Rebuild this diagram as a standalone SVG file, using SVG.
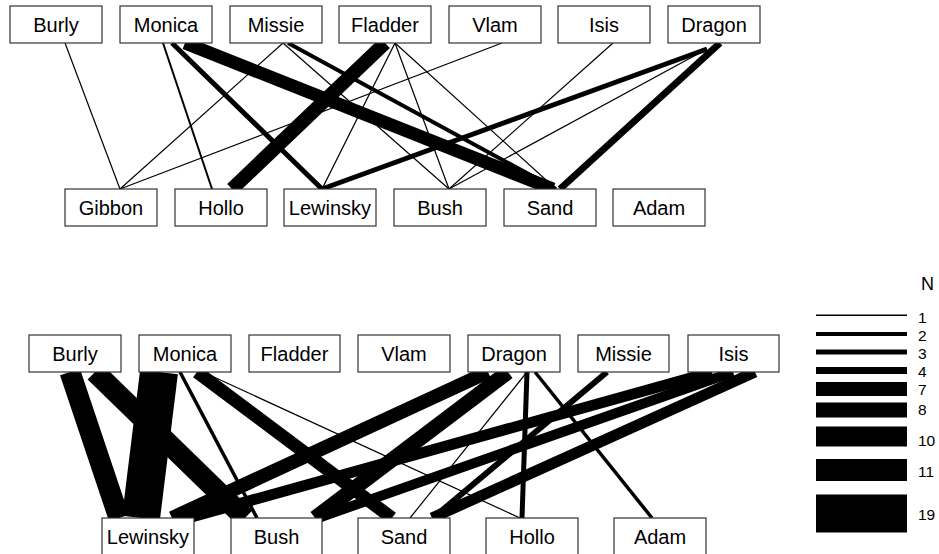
<svg xmlns="http://www.w3.org/2000/svg" width="939" height="554" viewBox="0 0 939 554">
<style>
.nd rect{fill:#fff;stroke:#333;stroke-width:1.2}
.nd text{font-family:"Liberation Sans",Arial,sans-serif;font-size:20px;fill:#000;text-anchor:middle}
.e line{stroke:#000;stroke-linecap:butt}
.lg text{font-family:"Liberation Sans",Arial,sans-serif;font-size:15.5px;fill:#000}
.lg .n{font-size:18px}
</style>
<rect width="939" height="554" fill="#fff"/>
<g id="edges-top" class="e">
<line x1="65" y1="43" x2="120" y2="189" stroke-width="1.2"/>
<line x1="163" y1="43" x2="212" y2="189" stroke-width="2"/>
<line x1="172" y1="43" x2="322" y2="189" stroke-width="5"/>
<line x1="185" y1="43" x2="553" y2="189" stroke-width="13"/>
<line x1="283" y1="43" x2="120" y2="189" stroke-width="1.2"/>
<line x1="283" y1="43" x2="449" y2="189" stroke-width="1.2"/>
<line x1="288" y1="43" x2="556" y2="189" stroke-width="4"/>
<line x1="385" y1="43" x2="232" y2="189" stroke-width="14"/>
<line x1="395" y1="43" x2="322" y2="189" stroke-width="1.2"/>
<line x1="395" y1="43" x2="449" y2="189" stroke-width="1.2"/>
<line x1="395" y1="43" x2="556" y2="189" stroke-width="1.2"/>
<line x1="502" y1="43" x2="120" y2="189" stroke-width="1.2"/>
<line x1="613" y1="43" x2="449" y2="189" stroke-width="1.2"/>
<line x1="707" y1="49" x2="322" y2="189" stroke-width="5"/>
<line x1="707" y1="49" x2="449" y2="189" stroke-width="1.2"/>
<line x1="720" y1="43" x2="560" y2="189" stroke-width="7"/>
</g>
<g id="edges-bottom" class="e">
<line x1="70" y1="372" x2="119" y2="518" stroke-width="21"/>
<line x1="95" y1="372" x2="245" y2="518" stroke-width="21"/>
<line x1="159" y1="372" x2="141" y2="518" stroke-width="38"/>
<line x1="180" y1="372" x2="257" y2="518" stroke-width="3.5"/>
<line x1="197" y1="372" x2="392" y2="518" stroke-width="13"/>
<line x1="203" y1="372" x2="520" y2="518" stroke-width="1.2"/>
<line x1="488" y1="372" x2="172" y2="518" stroke-width="14"/>
<line x1="508" y1="372" x2="315" y2="518" stroke-width="15"/>
<line x1="527" y1="372" x2="410" y2="518" stroke-width="1.2"/>
<line x1="527" y1="372" x2="522" y2="518" stroke-width="5"/>
<line x1="535" y1="372" x2="652" y2="518" stroke-width="3.5"/>
<line x1="607" y1="372" x2="433" y2="518" stroke-width="6"/>
<line x1="712" y1="372" x2="188" y2="518" stroke-width="11"/>
<line x1="733" y1="372" x2="318" y2="518" stroke-width="10"/>
<line x1="755" y1="372" x2="432" y2="518" stroke-width="11"/>
</g>
<g id="n-t-burly" class="nd"><rect x="10" y="6" width="92" height="37"/><text x="56" y="31.5">Burly</text></g>
<g id="n-t-monica" class="nd"><rect x="120" y="6" width="92" height="37"/><text x="166" y="31.5">Monica</text></g>
<g id="n-t-missie" class="nd"><rect x="230" y="6" width="92" height="37"/><text x="276" y="31.5">Missie</text></g>
<g id="n-t-fladder" class="nd"><rect x="339" y="6" width="92" height="37"/><text x="385" y="31.5">Fladder</text></g>
<g id="n-t-vlam" class="nd"><rect x="449" y="6" width="92" height="37"/><text x="495" y="31.5">Vlam</text></g>
<g id="n-t-isis" class="nd"><rect x="558" y="6" width="92" height="37"/><text x="604" y="31.5">Isis</text></g>
<g id="n-t-dragon" class="nd"><rect x="668" y="6" width="92" height="37"/><text x="714" y="31.5">Dragon</text></g>
<g id="n-t-gibbon" class="nd"><rect x="65" y="189" width="92" height="37"/><text x="111" y="214.5">Gibbon</text></g>
<g id="n-t-hollo" class="nd"><rect x="175" y="189" width="92" height="37"/><text x="221" y="214.5">Hollo</text></g>
<g id="n-t-lewinsky" class="nd"><rect x="284" y="189" width="92" height="37"/><text x="330" y="214.5">Lewinsky</text></g>
<g id="n-t-bush" class="nd"><rect x="394" y="189" width="92" height="37"/><text x="440" y="214.5">Bush</text></g>
<g id="n-t-sand" class="nd"><rect x="504" y="189" width="92" height="37"/><text x="550" y="214.5">Sand</text></g>
<g id="n-t-adam" class="nd"><rect x="613" y="189" width="92" height="37"/><text x="659" y="214.5">Adam</text></g>
<g id="n-b-burly" class="nd"><rect x="29" y="335" width="92" height="37"/><text x="75" y="360.5">Burly</text></g>
<g id="n-b-monica" class="nd"><rect x="139" y="335" width="92" height="37"/><text x="185" y="360.5">Monica</text></g>
<g id="n-b-fladder" class="nd"><rect x="249" y="335" width="91" height="37"/><text x="294.5" y="360.5">Fladder</text></g>
<g id="n-b-vlam" class="nd"><rect x="358" y="335" width="92" height="37"/><text x="404" y="360.5">Vlam</text></g>
<g id="n-b-dragon" class="nd"><rect x="468" y="335" width="92" height="37"/><text x="514" y="360.5">Dragon</text></g>
<g id="n-b-missie" class="nd"><rect x="578" y="335" width="91" height="37"/><text x="623.5" y="360.5">Missie</text></g>
<g id="n-b-isis" class="nd"><rect x="688" y="335" width="91" height="37"/><text x="733.5" y="360.5">Isis</text></g>
<g id="n-b-lewinsky" class="nd"><rect x="102" y="518" width="92" height="37"/><text x="148" y="543.5">Lewinsky</text></g>
<g id="n-b-bush" class="nd"><rect x="231" y="518" width="91" height="37"/><text x="276.5" y="543.5">Bush</text></g>
<g id="n-b-sand" class="nd"><rect x="358" y="518" width="92" height="37"/><text x="404" y="543.5">Sand</text></g>
<g id="n-b-hollo" class="nd"><rect x="486" y="518" width="92" height="37"/><text x="532" y="543.5">Hollo</text></g>
<g id="n-b-adam" class="nd"><rect x="614" y="518" width="92" height="37"/><text x="660" y="543.5">Adam</text></g>
<g id="legend" class="lg">
<text class="n" x="921" y="290">N</text>
<rect x="816" y="314.5" width="91" height="1.5"/>
<rect x="816" y="332" width="91" height="4"/>
<rect x="816" y="349.5" width="91" height="5"/>
<rect x="816" y="367" width="91" height="7"/>
<rect x="816" y="382" width="91" height="14"/>
<rect x="816" y="402.5" width="91" height="15"/>
<rect x="816" y="426.5" width="91" height="20"/>
<rect x="816" y="459" width="91" height="22"/>
<rect x="816" y="494.5" width="91" height="38"/>
<text x="918" y="322.5">1</text>
<text x="918" y="340.5">2</text>
<text x="918" y="358.5">3</text>
<text x="918" y="376.5">4</text>
<text x="918" y="395">7</text>
<text x="918" y="415">8</text>
<text x="918" y="446">10</text>
<text x="918" y="477">11</text>
<text x="918" y="520">19</text>
</g>
</svg>
